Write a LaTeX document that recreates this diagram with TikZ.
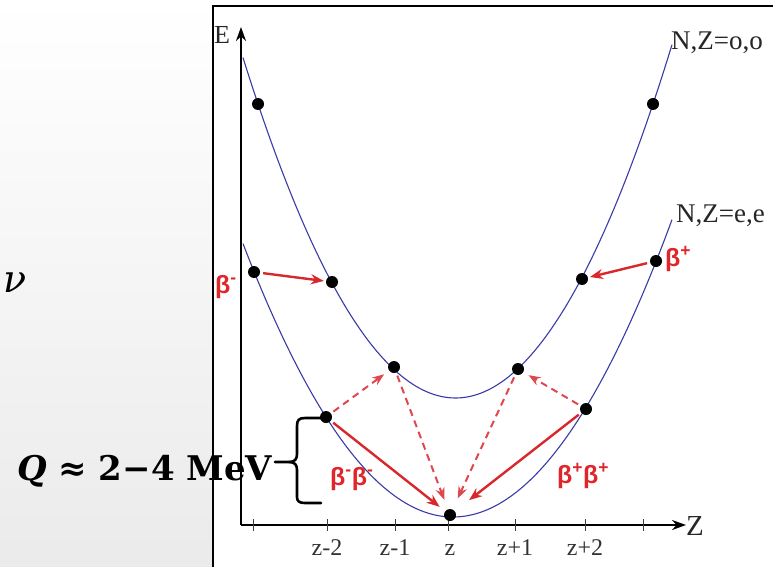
\documentclass[tikz,border=0pt]{standalone}
\usepackage{fontspec}
\usetikzlibrary{arrows.meta}
\newfontfamily\timesf{Liberation Serif}
\newfontfamily\arialf{Liberation Sans}
\newfontfamily\dvserif{DejaVu Serif}
\definecolor{curveblue}{HTML}{3B3BA6}
\definecolor{betared}{HTML}{E0262B}
\definecolor{arrred}{HTML}{D8282C}
\newcommand\betaminus{β\textsuperscript{-}}
\newcommand\betaplus{β\textsuperscript{+}}
\newcommand\qvalue{{\itshape Q} ≈ 2−4 MeV}
\begin{document}
\begin{tikzpicture}[x=1pt,y=-1pt,
  dot/.style={circle,fill=black,inner sep=0pt,minimum size=12pt},
  curve/.style={curveblue,line width=1.1pt},
  axis/.style={line width=2pt,-{Stealth[length=14pt,width=10pt]}},
  tickmark/.style={line width=0.9pt,black!75},
  ticklabel/.style={font=\timesf\fontsize{24}{24}\selectfont,text=black!80,anchor=base,inner sep=0pt},
  serif/.style={font=\timesf\fontsize{27}{27}\selectfont,text=black!85,anchor=base west,inner sep=0pt},
  decay/.style={arrred,line width=2.4pt,-{Stealth[length=13pt,width=10pt]},shorten <=3pt,shorten >=2pt},
  ddecay/.style={arrred!85,line width=2pt,dash pattern=on 7pt off 5pt,-{Stealth[length=12pt,width=9pt]},shorten <=3pt,shorten >=6pt},
  betalabel/.style={font=\arialf\bfseries\fontsize{25}{25}\selectfont,text=betared,anchor=base west,inner sep=0pt},
  bracepen/.style={line width=2.6pt,line cap=round,line join=round},
  bigtext/.style={font=\dvserif\bfseries\fontsize{34}{34}\selectfont,anchor=base west,inner sep=0pt},
  nutext/.style={font=\dvserif\itshape\fontsize{38}{38}\selectfont,anchor=base west,inner sep=0pt},
]
\useasboundingbox (0,0) rectangle (773,567);
% background and frame
\shade[top color=white,bottom color=black!8] (0,0) rectangle (773,567);
\fill[white] (213,6) rectangle (773,567);
\draw[line width=2pt] (213,567) -- (213,6) -- (773,6);

% axes
\coordinate (O) at (241,525);
\coordinate (Ytop) at (241,27);
\coordinate (Xend) at (686,525);
\draw[axis] (O) -- (Ytop);
\draw[axis] (O) -- (Xend);
\foreach \tx in {253,327,395,448,515,585,643}
  \draw[tickmark] (\tx,519) -- (\tx,531);
\node[ticklabel] (lzm2) at (327,555) {z-2};
\node[ticklabel] (lzm1) at (395,555) {z-1};
\node[ticklabel] (lz)   at (450,555) {z};
\node[ticklabel] (lzp1) at (515,555) {z+1};
\node[ticklabel] (lzp2) at (585,555) {z+2};
\node[serif,font=\timesf\fontsize{26}{26}\selectfont] (E) at (214,44) {E};
\node[serif,font=\timesf\fontsize{29}{29}\selectfont] (Z) at (686,535) {Z};

% parabolas
\draw[curve] plot[domain=243:672,samples=120] (\x,{398-(0.08683*(\x-455.5))^2});
\draw[curve] plot[domain=243:672,samples=120] (\x,{517-(0.07874*(\x-453))^2});
\node[serif] (loo) at (671,50) {N,Z=o,o};
\node[serif] (lee) at (676,222) {N,Z=e,e};

% nuclei
\node[dot] (o1) at (258,104) {};
\node[dot] (o2) at (332,282) {};
\node[dot] (o3) at (394,367) {};
\node[dot] (o4) at (518,369) {};
\node[dot] (o5) at (582,279) {};
\node[dot] (o6) at (653,104) {};
\node[dot] (e1) at (254,272) {};
\node[dot] (e2) at (326,417) {};
\node[dot] (e3) at (450,515) {};
\node[dot] (e4) at (586,409) {};
\node[dot] (e5) at (656,261) {};

% decays
\draw[decay] (e1) -- (o2);
\draw[decay] (e5) -- (o5);
\draw[ddecay] (e2) -- (o3);
\draw[ddecay] (e4) -- (o4);
\draw[ddecay,shorten >=10pt] (o3) -- (e3);
\draw[ddecay,shorten >=12pt] (o4) -- (e3);
\draw[decay,shorten >=7pt] (e2) -- (e3);
\draw[decay,shorten >=18pt] (e4) -- (e3);

\node[betalabel] (bm) at (215,293) {\betaminus};
\node[betalabel] (bp) at (665,266) {\betaplus};
\node[betalabel] (bmbm) at (330,485) {\betaminus\betaminus};
\node[betalabel] (bpbp) at (557,483) {\betaplus\betaplus};

% brace and Q value
\draw[bracepen] (321,418) -- (305,418) .. controls (299,418) and (297,420) .. (297,426) -- (297,454) .. controls (297,459) and (295,462) .. (289,462) -- (275,462);
\draw[bracepen] (289,462) .. controls (295,462) and (297,465) .. (297,470) -- (297,497) .. controls (297,501) and (299,503) .. (305,503) -- (321,503);
\node[bigtext] (qv) at (17,480) {\qvalue};
\node[nutext] (nu) at (3,292) {ν};
\end{tikzpicture}
\end{document}
